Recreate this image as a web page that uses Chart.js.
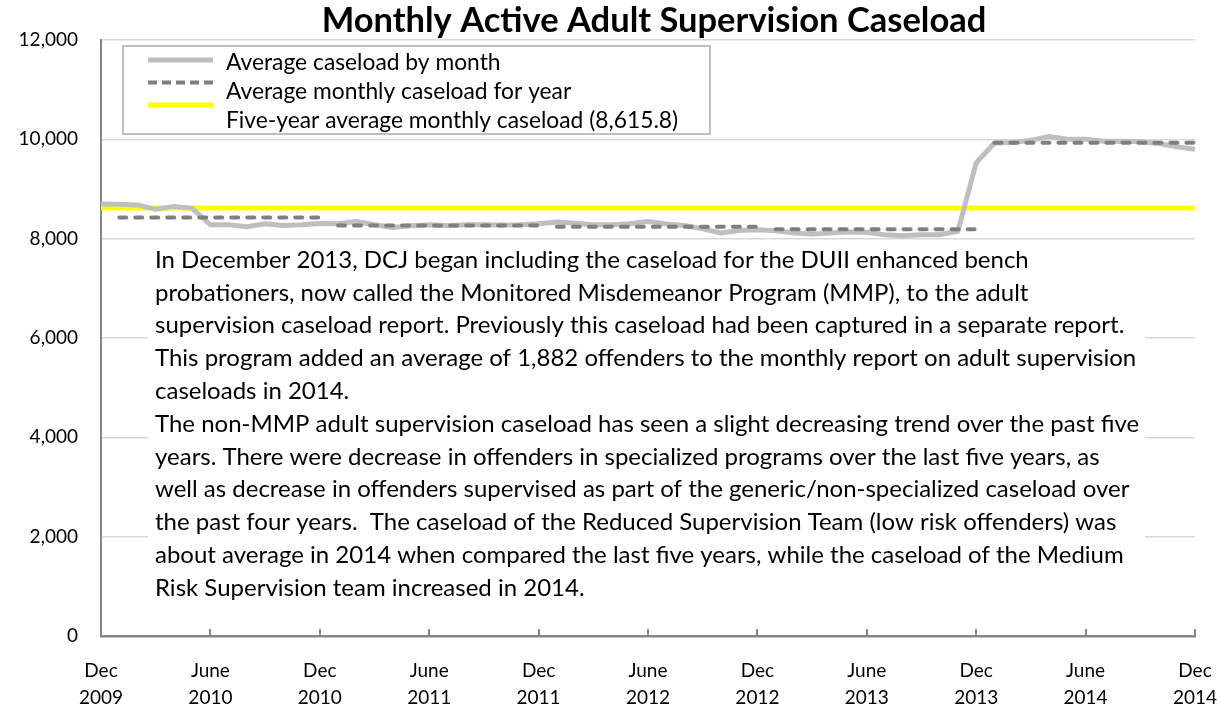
<!DOCTYPE html>
<html>
<head>
<meta charset="utf-8">
<script src="https://cdn.jsdelivr.net/npm/chart.js@4"></script>
<style>
  body { margin: 0; background: #fff; }
  canvas { display: block; }
</style>
</head>
<body>
<canvas id="myChart" width="1220" height="713"></canvas>
<script>
const months = [
    'Dec 2009',
    'Jan 2010', 'Feb 2010', 'Mar 2010', 'Apr 2010', 'May 2010', 'Jun 2010',
    'Jul 2010', 'Aug 2010', 'Sep 2010', 'Oct 2010', 'Nov 2010', 'Dec 2010',
    'Jan 2011', 'Feb 2011', 'Mar 2011', 'Apr 2011', 'May 2011', 'Jun 2011',
    'Jul 2011', 'Aug 2011', 'Sep 2011', 'Oct 2011', 'Nov 2011', 'Dec 2011',
    'Jan 2012', 'Feb 2012', 'Mar 2012', 'Apr 2012', 'May 2012', 'Jun 2012',
    'Jul 2012', 'Aug 2012', 'Sep 2012', 'Oct 2012', 'Nov 2012', 'Dec 2012',
    'Jan 2013', 'Feb 2013', 'Mar 2013', 'Apr 2013', 'May 2013', 'Jun 2013',
    'Jul 2013', 'Aug 2013', 'Sep 2013', 'Oct 2013', 'Nov 2013', 'Dec 2013',
    'Jan 2014', 'Feb 2014', 'Mar 2014', 'Apr 2014', 'May 2014', 'Jun 2014',
    'Jul 2014', 'Aug 2014', 'Sep 2014', 'Oct 2014', 'Nov 2014', 'Dec 2014',
];

// tick labels shown every 6 months
const tickLabels = [
    ['Dec', '2009'], ['June', '2010'], ['Dec', '2010'], ['June', '2011'],
    ['Dec', '2011'], ['June', '2012'], ['Dec', '2012'], ['June', '2013'],
    ['Dec', '2013'], ['June', '2014'], ['Dec', '2014'],
];

const monthlyCaseload = [
    8700,
    8695, 8680, 8590, 8650, 8610, 8280, 8280, 8240, 8300, 8265, 8280, 8305,
    8300, 8345, 8280, 8225, 8260, 8280, 8260, 8280, 8280, 8275, 8280, 8300,
    8335, 8310, 8280, 8280, 8300, 8345, 8295, 8265, 8200, 8115, 8165, 8180,
    8160, 8115, 8095, 8115, 8135, 8125, 8080, 8060, 8080, 8080, 8150, 9530,
    9925, 9935, 9980, 10060, 10000, 10000, 9960, 9960, 9950, 9915, 9850, 9800,
];

const years = ['2010', '2011', '2012', '2013', '2014'];
const yearlyAverage = [8426, 8266, 8240, 8190, 9930];
const fiveYearAverage = 8615.8;

const yTicks = [0, 2000, 4000, 6000, 8000, 10000, 12000];

const noteLines = [
    'In December 2013, DCJ began including the caseload for the DUII enhanced bench',
    'probationers, now called the Monitored Misdemeanor Program (MMP), to the adult',
    'supervision caseload report. Previously this caseload had been captured in a separate report.',
    'This program added an average of 1,882 offenders to the monthly report on adult supervision',
    'caseloads in 2014.',
    'The non-MMP adult supervision caseload has seen a slight decreasing trend over the past five',
    'years. There were decrease in offenders in specialized programs over the last five years, as',
    'well as decrease in offenders supervised as part of the generic/non-specialized caseload over',
    'the past four years.  The caseload of the Reduced Supervision Team (low risk offenders) was',
    'about average in 2014 when compared the last five years, while the caseload of the Medium',
    'Risk Supervision team increased in 2014.',
];

// yearly average repeated for each month of its year
const yearlyData = months.map(m => {
    const idx = years.indexOf(m.slice(-4));
    return idx >= 0 && m !== 'Dec 2009' ? yearlyAverage[idx] : null;
});
const fiveYearData = months.map(() => fiveYearAverage);

const FONT = 'Lato';

const extras = {
    id: 'extras',
    beforeDatasetsDraw(chart) {
        const ctx = chart.ctx;
        ctx.save();
        // white text box over the gridlines
        ctx.fillStyle = '#fff';
        ctx.fillRect(148, 244, 997, 362);
        ctx.font = '24px ' + FONT;
        ctx.textBaseline = 'middle';
        ctx.fillStyle = '#000';
        const top = 260, lh = 32.8;
        noteLines.forEach((line, i) => {
            ctx.fillText(line, 155, top + i * lh);
        });
        ctx.restore();
    },
    afterDraw(chart) {
        const ctx = chart.ctx;
        const xs = chart.scales.x;
        const bottom = chart.chartArea.bottom;
        ctx.save();
        // inward tick marks
        ctx.strokeStyle = '#868686';
        ctx.lineWidth = 2;
        for (let i = 0; i < months.length; i += 6) {
            const x = Math.round(xs.getPixelForValue(i));
            ctx.beginPath();
            ctx.moveTo(x, bottom);
            ctx.lineTo(x, bottom - 7);
            ctx.stroke();
        }
        // title
        ctx.fillStyle = '#000';
        ctx.font = 'bold 34.5px ' + FONT;
        ctx.textAlign = 'center';
        ctx.textBaseline = 'middle';
        ctx.fillText('Monthly Active Adult Supervision Caseload', 654, 21);
        // legend
        ctx.fillStyle = '#fff';
        ctx.fillRect(123, 46, 587, 88);
        ctx.strokeStyle = '#BFBFBF';
        ctx.lineWidth = 2;
        ctx.strokeRect(123, 46, 587, 88);
        const ds = chart.data.datasets;
        const sampleY = [60, 82.5, 105];
        const textY = [63, 92, 121];
        ds.forEach((d, i) => {
            ctx.beginPath();
            ctx.strokeStyle = d.borderColor;
            ctx.lineWidth = d.borderWidth;
            ctx.lineCap = 'butt';
            ctx.setLineDash(d.borderDash ? [9, 5] : []);
            ctx.moveTo(148, sampleY[i]);
            ctx.lineTo(213, sampleY[i]);
            ctx.stroke();
            ctx.setLineDash([]);
            ctx.fillStyle = '#000';
            ctx.font = '22.8px ' + FONT;
            ctx.textAlign = 'left';
            ctx.fillText(d.label, 226, textY[i]);
        });
        ctx.restore();
    }
};

const config = {
    type: 'line',
    data: {
        labels: months,
        datasets: [{
            label: 'Average caseload by month',
            data: monthlyCaseload,
            borderColor: '#BFBFBF',
            borderWidth: 5,
            borderJoinStyle: 'round',
            pointRadius: 0,
            tension: 0,
            order: 1
        }, {
            label: 'Average monthly caseload for year',
            data: yearlyData,
            borderColor: '#7F7F7F',
            borderWidth: 4,
            borderDash: [7, 9],
            borderCapStyle: 'round',
            pointRadius: 0,
            tension: 0,
            order: 0,
            segment: {
                borderColor: c => c.p0.parsed.y !== c.p1.parsed.y ? 'rgba(0,0,0,0)' : undefined
            }
        }, {
            label: 'Five-year average monthly caseload (8,615.8)',
            data: fiveYearData,
            borderColor: '#FFFF00',
            borderWidth: 5,
            pointRadius: 0,
            tension: 0,
            order: 2
        }]
    },
    options: {
        responsive: false,
        animation: false,
        devicePixelRatio: 1,
        layout: { padding: { top: 40, right: 25, left: 0, bottom: 0 } },
        plugins: {
            legend: { display: false },
            tooltip: { enabled: false },
            title: { display: false }
        },
        scales: {
            x: {
                grid: { display: false, drawTicks: false },
                border: { color: '#868686', width: 2.5 },
                ticks: {
                    autoSkip: false,
                    maxRotation: 0,
                    padding: 21,
                    color: '#000',
                    font: { family: FONT, size: 19, lineHeight: 1.42 },
                    callback: (v, i) => i % 6 === 0 ? tickLabels[i / 6] : ''
                },
                afterFit: s => {
                    s.height = 77;
                    s.paddingLeft = 0;
                    s.paddingRight = 0;
                }
            },
            y: {
                min: 0,
                max: 12000,
                afterBuildTicks: s => { s.ticks = yTicks.map(v => ({ value: v })); },
                grid: { color: '#D9D9D9', lineWidth: 1.5, drawTicks: false },
                border: { color: '#868686', width: 2 },
                ticks: {
                    padding: 23,
                    color: '#000',
                    font: { family: FONT, size: 19 },
                    callback: v => v.toLocaleString('en-US')
                },
                afterFit: s => { s.width = 101; }
            }
        }
    },
    plugins: [extras]
};

const myChart = new Chart(document.getElementById('myChart'), config);
</script>
</body>
</html>
